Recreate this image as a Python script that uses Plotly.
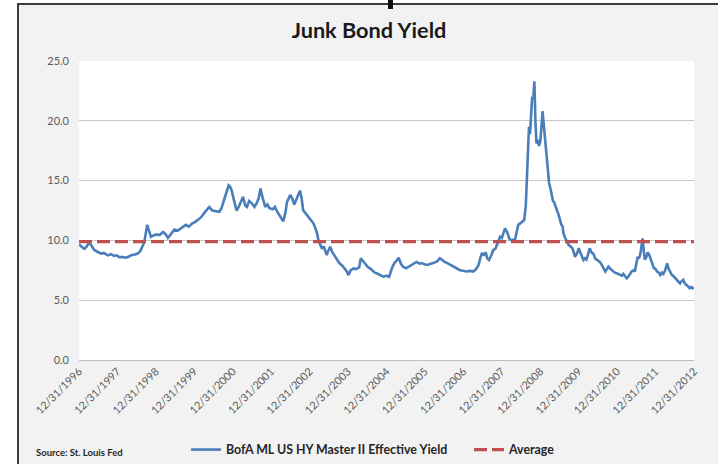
import plotly.graph_objects as go

# ---- data ----
dates = [
    "1996-12-31","1997-01-20","1997-02-20","1997-03-12","1997-04-08","1997-05-05","1997-05-25","1997-06-25",
    "1997-07-28","1997-08-25","1997-09-30","1997-10-30","1997-11-30","1997-12-25","1998-01-18","1998-02-25",
    "1998-03-22","1998-04-20","1998-05-08","1998-06-05","1998-07-12","1998-08-05","1998-08-20","1998-09-05",
    "1998-09-14","1998-09-30","1998-10-10","1998-10-20","1998-11-01","1998-11-15","1998-12-05","1999-01-05",
    "1999-02-05","1999-03-10","1999-04-05","1999-04-25","1999-05-20","1999-06-10","1999-06-25","1999-07-25",
    "1999-08-25","1999-09-25","1999-10-12","1999-11-10","1999-12-10","2000-01-10","2000-02-01","2000-03-01",
    "2000-04-05","2000-05-05","2000-05-22","2000-06-20","2000-07-20","2000-08-25","2000-09-15","2000-10-12",
    "2000-11-05","2000-11-22","2000-12-05","2000-12-20","2001-01-05","2001-01-25","2001-02-05","2001-02-25",
    "2001-03-20","2001-04-08","2001-04-30","2001-05-15","2001-06-05","2001-06-30","2001-07-25","2001-08-20",
    "2001-09-05","2001-09-20","2001-10-10","2001-11-05","2001-11-25","2001-12-15","2002-01-15","2002-02-05",
    "2002-02-20","2002-03-25","2002-04-10","2002-04-25","2002-05-15","2002-05-30","2002-06-12","2002-06-30",
    "2002-07-20","2002-08-08","2002-08-31","2002-09-15","2002-10-01","2002-10-15","2002-11-01","2002-11-20",
    "2002-12-15","2003-01-05","2003-02-05","2003-02-25","2003-03-15","2003-03-25","2003-04-12","2003-04-28",
    "2003-05-15","2003-06-01","2003-06-12","2003-06-25","2003-07-15","2003-08-05","2003-08-25","2003-09-15",
    "2003-10-10","2003-11-05","2003-11-25","2003-12-20","2004-01-05","2004-01-25","2004-02-20","2004-03-15",
    "2004-04-15","2004-05-01","2004-05-20","2004-06-15","2004-07-05","2004-08-05","2004-09-10","2004-09-28",
    "2004-11-01","2004-12-01","2004-12-31","2005-01-25","2005-02-20","2005-03-15","2005-04-12","2005-04-25",
    "2005-05-20","2005-06-05","2005-07-05","2005-08-05","2005-08-25","2005-09-20","2005-10-12","2005-11-10",
    "2005-12-01","2005-12-25","2006-01-20","2006-02-25","2006-03-20","2006-04-25","2006-05-22","2006-06-10",
    "2006-07-05","2006-08-01","2006-09-05","2006-09-28","2006-11-01","2006-12-01","2007-01-05","2007-02-01",
    "2007-03-05","2007-04-05","2007-05-01","2007-05-25","2007-06-10","2007-06-25","2007-07-15","2007-08-01",
    "2007-08-15","2007-09-01","2007-09-25","2007-10-12","2007-11-01","2007-11-15","2007-12-01","2007-12-15",
    "2008-01-01","2008-01-15","2008-01-31","2008-02-15","2008-03-01","2008-03-15","2008-04-01","2008-04-15",
    "2008-05-01","2008-05-15","2008-06-05","2008-06-20","2008-07-05","2008-07-20","2008-07-31","2008-08-15",
    "2008-08-25","2008-09-05","2008-09-15","2008-09-25","2008-10-05","2008-10-15","2008-10-25","2008-11-05",
    "2008-11-15","2008-11-25","2008-12-05","2008-12-20","2009-01-01","2009-01-12","2009-01-22","2009-02-01",
    "2009-02-12","2009-02-25","2009-03-08","2009-03-15","2009-03-25","2009-04-05","2009-04-18","2009-05-01",
    "2009-05-12","2009-05-25","2009-06-08","2009-06-22","2009-07-05","2009-07-20","2009-07-31","2009-08-08",
    "2009-08-25","2009-09-10","2009-09-28","2009-10-15","2009-11-01","2009-11-15","2009-11-25","2009-12-15",
    "2010-01-01","2010-01-15","2010-02-01","2010-02-15","2010-03-01","2010-03-15","2010-04-01","2010-04-15",
    "2010-05-01","2010-05-20","2010-06-05","2010-06-20","2010-07-05","2010-07-20","2010-08-05","2010-08-25",
    "2010-09-10","2010-09-25","2010-10-10","2010-10-25","2010-11-10","2010-11-25","2010-12-10","2010-12-28",
    "2011-01-15","2011-02-01","2011-02-15","2011-03-01","2011-03-15","2011-04-01","2011-04-15","2011-05-01",
    "2011-05-18","2011-06-05","2011-06-18","2011-07-01","2011-07-15","2011-07-25","2011-08-05","2011-08-15",
    "2011-08-30","2011-09-10","2011-09-20","2011-10-05","2011-10-18","2011-11-01","2011-11-15","2011-12-01",
    "2011-12-15","2012-01-01","2012-01-15","2012-02-01","2012-02-15","2012-03-01","2012-03-15","2012-04-01",
    "2012-04-20","2012-05-05","2012-05-20","2012-06-05","2012-06-20","2012-07-05","2012-07-20","2012-08-05",
    "2012-08-20","2012-09-05","2012-09-20","2012-10-05","2012-10-20","2012-11-05","2012-11-20","2012-12-05",
    "2012-12-18","2012-12-31",
]

hy_yield = [
    9.7, 9.5, 9.3, 9.45, 9.85, 9.5, 9.2, 9.05,
    8.9, 8.95, 8.75, 8.85, 8.7, 8.75, 8.6, 8.6,
    8.55, 8.65, 8.75, 8.8, 8.9, 9.1, 9.35, 9.7,
    9.95, 10.6, 11.3, 11.0, 10.6, 10.3, 10.4, 10.5,
    10.45, 10.7, 10.5, 10.2, 10.5, 10.7, 10.9, 10.8,
    11.0, 11.2, 11.3, 11.15, 11.4, 11.55, 11.7, 11.9,
    12.3, 12.6, 12.8, 12.5, 12.45, 12.4, 12.7, 13.4,
    14.0, 14.6, 14.5, 14.2, 13.6, 12.9, 12.5, 12.8,
    13.3, 13.65, 12.9, 12.8, 13.3, 13.1, 12.8, 13.2,
    13.6, 14.35, 13.6, 12.8, 13.0, 12.7, 12.6, 12.8,
    12.5, 12.1, 11.8, 11.6, 12.3, 13.2, 13.4, 13.8,
    13.5, 13.0, 13.5, 13.9, 14.16, 13.6, 12.5, 12.3,
    12.0, 11.8, 11.43, 11.0, 10.5, 10.0, 9.6, 9.3,
    9.5, 9.0, 8.78, 9.1, 9.47, 9.0, 8.7, 8.36,
    8.1, 7.9, 7.7, 7.4, 7.1, 7.5, 7.65, 7.6,
    7.75, 8.5, 8.3, 8.0, 7.8, 7.6, 7.3, 7.25,
    7.1, 6.97, 7.05, 6.95, 7.67, 8.1, 8.36, 8.55,
    8.0, 7.8, 7.67, 7.85, 7.95, 8.1, 8.2, 8.05,
    8.1, 8.0, 7.95, 8.05, 8.1, 8.25, 8.5, 8.4,
    8.2, 8.1, 7.95, 7.8, 7.65, 7.5, 7.45, 7.4,
    7.45, 7.4, 7.6, 7.95, 8.5, 8.9, 8.8, 9.0,
    8.5, 8.36, 8.8, 9.2, 9.3, 9.6, 9.9, 10.3,
    10.2, 10.6, 11.0, 10.8, 10.5, 10.1, 10.0, 10.05,
    9.9, 10.5, 11.3, 11.4, 11.5, 11.56, 11.7, 12.8,
    15.0, 17.8, 19.5, 18.9, 20.5, 22.0, 21.8, 23.3,
    20.0, 18.1, 18.4, 17.9, 18.3, 19.8, 20.8, 19.8,
    18.7, 17.5, 16.7, 15.5, 14.8, 14.4, 13.9, 13.3,
    13.2, 12.8, 12.5, 12.2, 11.7, 11.3, 11.2, 10.6,
    10.2, 9.9, 9.6, 9.5, 9.34, 9.0, 8.64, 8.9,
    9.34, 9.0, 8.7, 8.36, 8.5, 8.4, 8.9, 9.34,
    9.0, 8.9, 8.5, 8.4, 8.35, 8.2, 8.0, 7.6,
    7.4, 7.6, 7.8, 7.65, 7.5, 7.4, 7.3, 7.25,
    7.2, 7.15, 7.05, 7.2, 7.0, 6.83, 6.95, 7.2,
    7.4, 7.5, 7.4, 8.0, 8.64, 8.5, 8.7, 9.2,
    10.17, 9.2, 8.4, 8.6, 9.0, 8.8, 8.4, 8.1,
    7.7, 7.6, 7.4, 7.3, 7.1, 7.3, 7.2, 7.5,
    8.08, 7.6, 7.3, 7.1, 7.0, 6.83, 6.7, 6.55,
    6.4, 6.6, 6.7, 6.4, 6.3, 6.15, 6.0, 6.1,
    6.0, 6.05,
]

average_value = 9.9

tick_dates = ["%d-12-31" % y for y in range(1996, 2013)]
tick_labels = ["12/31/%d" % y for y in range(1996, 2013)]
y_ticks = [0, 5, 10, 15, 20, 25]

series_name = "BofA ML US HY Master II Effective Yield"
avg_name = "Average"
title_text = "Junk Bond Yield"
source_text = "Source: St. Louis Fed"

# ---- layout geometry (pixels) ----
W, H = 718, 464
L, R, T, B = 79, 24, 61, 104
pw, ph = W - L - R, H - T - B


def px_x(p):
    return (p - L) / pw


def px_y(p):
    return (H - B - p) / ph


FONT = "Lato"
BLUE = "#4a7ebb"
RED = "#c0504d"

fig = go.Figure()
fig.add_trace(go.Scatter(
    x=dates, y=hy_yield, mode="lines", name=series_name,
    line=dict(color=BLUE, width=2.6), legend="legend",
))
fig.add_trace(go.Scatter(
    x=[dates[0], dates[-1]], y=[average_value, average_value], mode="lines",
    name=avg_name, line=dict(color=RED, width=3.2, dash="13px,5px"), legend="legend2",
))

shapes = [
    dict(type="rect", xref="paper", yref="paper", x0=px_x(18), x1=px_x(740),
         y0=px_y(480), y1=px_y(4), fillcolor="#f2f2f2",
         line=dict(color="#3c3c3c", width=2), layer="below"),
    dict(type="rect", xref="paper", yref="paper", x0=0, x1=1, y0=0, y1=1,
         fillcolor="white", line=dict(width=0), layer="below"),
    dict(type="rect", xref="paper", yref="paper", x0=px_x(388), x1=px_x(393),
         y0=px_y(9), y1=px_y(-2), fillcolor="#111111", line=dict(width=0), layer="above"),
]

fig.update_layout(
    template="none",
    width=W, height=H,
    margin=dict(l=L, r=R, t=T, b=B, pad=0, autoexpand=False),
    paper_bgcolor="white",
    plot_bgcolor="white",
    shapes=shapes,
    title=dict(text=title_text, x=px_x(369), xref="paper", xanchor="center",
               y=1 - 30 / H, yref="container", yanchor="middle",
               font=dict(family=FONT, size=21.7, color="#1a1a1a", weight="bold")),
    showlegend=True,
    legend=dict(orientation="h", x=px_x(186), xanchor="left", y=px_y(450), yanchor="middle",
                bgcolor="rgba(0,0,0,0)", borderwidth=0,
                font=dict(family=FONT, size=12.4, color="#262626", weight="bold")),
    legend2=dict(orientation="h", x=px_x(469), xanchor="left", y=px_y(450), yanchor="middle",
                 bgcolor="rgba(0,0,0,0)", borderwidth=0,
                 font=dict(family=FONT, size=12.4, color="#262626", weight="bold")),
    annotations=[dict(text=source_text, xref="paper", yref="paper", x=px_x(34), y=px_y(452),
                      xanchor="left", yanchor="middle", showarrow=False,
                      font=dict(family=FONT, size=9.5, color="#262626", weight="bold"))],
)

fig.update_xaxes(
    type="date", range=[dates[0], dates[-1]], automargin=False,
    tickmode="array", tickvals=tick_dates, ticktext=tick_labels, tickangle=-45,
    tickfont=dict(family=FONT, size=10.8, color="#595959"),
    showgrid=False, zeroline=False, showline=True, linecolor="#bfbfbf", linewidth=1,
    ticks="", fixedrange=True,
)
fig.update_yaxes(
    range=[0, 25], tickmode="array", tickvals=y_ticks, tickformat=".1f", automargin=False,
    tickfont=dict(family=FONT, size=11, color="#595959"),
    showgrid=True, gridcolor="#c8c8c8", gridwidth=1, zeroline=False, showline=False,
    ticks="", ticklabelstandoff=9, fixedrange=True,
)

fig.write_html("out.html")
